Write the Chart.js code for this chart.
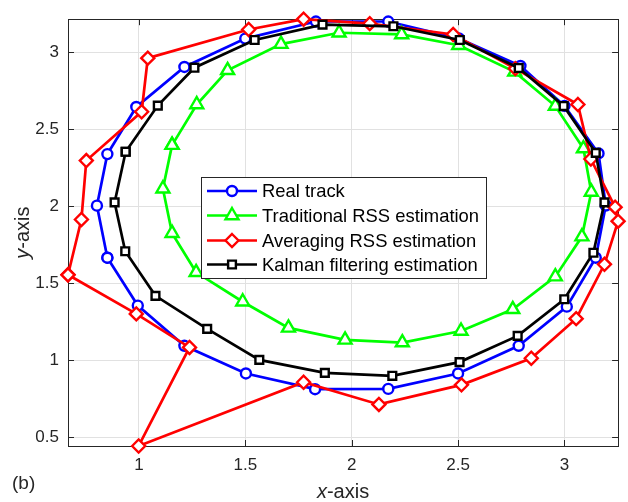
<!DOCTYPE html>
<html>
<head>
<meta charset="utf-8">
<title>Tracking estimation</title>
<script src="https://cdn.jsdelivr.net/npm/chart.js@4.4.1/dist/chart.umd.min.js"></script>
<style>
  html, body { margin: 0; padding: 0; background: #fff; }
  #wrap { width: 628px; height: 502px; }
</style>
</head>
<body>
<div id="wrap"><canvas id="trackChart" width="628" height="502"></canvas></div>
<script>
// positions round the loop for each method (x, y)
var realX = [0.852, 0.803, 0.852, 0.988, 1.214, 1.500, 1.832, 2.172, 2.504, 2.793, 3.000, 3.160, 3.194, 3.147, 3.011, 2.785, 2.500, 2.172, 1.828, 1.503, 1.214, 0.995];
var realY = [1.666, 2.004, 2.339, 2.645, 2.905, 3.089, 3.200, 3.200, 3.090, 2.911, 2.652, 2.343, 2.005, 1.666, 1.348, 1.094, 0.914, 0.814, 0.812, 0.914, 1.094, 1.355];

var tradX = [1.156, 1.113, 1.156, 1.269, 1.488, 1.703, 1.969, 2.238, 2.514, 2.757, 2.957, 3.082, 3.126, 3.089, 2.957, 2.766, 2.503, 2.235, 1.941, 1.668, 1.417, 1.272];
var tradY = [2.397, 2.114, 1.825, 1.571, 1.380, 1.210, 1.132, 1.115, 1.190, 1.331, 1.543, 1.803, 2.093, 2.375, 2.651, 2.873, 3.046, 3.116, 3.127, 3.053, 2.883, 2.661];

var avgX = [0.667, 0.730, 0.753, 1.013, 1.042, 1.516, 1.774, 2.085, 2.477, 2.769, 3.063, 3.124, 3.238, 3.252, 3.188, 3.055, 2.844, 2.516, 2.128, 1.774, 0.999, 1.238, 0.988];
var avgY = [1.555, 1.914, 2.297, 2.614, 2.962, 3.148, 3.215, 3.186, 3.116, 2.894, 2.661, 2.307, 1.994, 1.903, 1.623, 1.270, 1.013, 0.840, 0.713, 0.857, 0.443, 1.083, 1.301];

var kalX = [0.938, 0.886, 0.936, 1.078, 1.321, 1.566, 1.874, 2.191, 2.507, 2.780, 2.999, 3.136, 3.188, 3.147, 2.996, 2.785, 2.508, 2.196, 1.863, 1.544, 1.261, 1.089];
var kalY = [2.354, 2.025, 1.708, 1.418, 1.204, 1.002, 0.918, 0.899, 0.988, 1.158, 1.396, 1.698, 2.025, 2.347, 2.651, 2.898, 3.080, 3.169, 3.180, 3.080, 2.900, 2.654];

var seriesNames = ['Real track', 'Traditional RSS estimation', 'Averaging RSS estimation', 'Kalman filtering estimation'];

var xTicks = [1, 1.5, 2, 2.5, 3];
var yTicks = [0.5, 1, 1.5, 2, 2.5, 3];

var FONT = "'Liberation Sans', Arial, Helvetica, sans-serif";
var INK = '#262626';

// join x/y lists into points and close the loop
function loop(xs, ys) {
  var pts = [];
  for (var i = 0; i < xs.length; i++) pts.push({ x: xs[i], y: ys[i] });
  pts.push({ x: xs[0], y: ys[0] });
  return pts;
}

// axis tight round all the data
var allX = realX.concat(tradX, avgX, kalX);
var allY = realY.concat(tradY, avgY, kalY);
var xMin = Math.min.apply(null, allX), xMax = Math.max.apply(null, allX);
var yMin = Math.min.apply(null, allY), yMax = Math.max.apply(null, allY);

var styles = [
  { color: '#0000ff', pointStyle: 'circle', radius: 5 },
  { color: '#00ff00', pointStyle: 'triangle', radius: 7.5 },
  { color: '#ff0000', pointStyle: 'rectRot', radius: 6.5 },
  { color: '#000000', pointStyle: 'rect', radius: 5.5 }
];

function makeSet(i, pts, order) {
  return {
    label: seriesNames[i],
    data: pts,
    showLine: true,
    borderColor: styles[i].color,
    borderWidth: 2.7,
    pointStyle: styles[i].pointStyle,
    pointRadius: styles[i].radius,
    pointBorderColor: styles[i].color,
    pointBackgroundColor: '#ffffff',
    pointBorderWidth: 2.4,
    tension: 0,
    clip: false,
    order: order
  };
}

var tickLen = 6;

function marker(ctx, kind, x, y, r) {
  ctx.beginPath();
  if (kind === 'circle') {
    ctx.arc(x, y, r, 0, Math.PI * 2);
  } else if (kind === 'triangle') {
    ctx.moveTo(x, y - r);
    ctx.lineTo(x + r * Math.sin(Math.PI * 2 / 3), y + r / 2);
    ctx.lineTo(x - r * Math.sin(Math.PI * 2 / 3), y + r / 2);
    ctx.closePath();
  } else if (kind === 'rectRot') {
    ctx.moveTo(x, y - r);
    ctx.lineTo(x + r, y);
    ctx.lineTo(x, y + r);
    ctx.lineTo(x - r, y);
    ctx.closePath();
  } else {
    var s = r * Math.SQRT1_2;
    ctx.rect(x - s, y - s, 2 * s, 2 * s);
  }
  ctx.fill();
  ctx.stroke();
}

// write "x-axis" style labels: italic letter then upright rest
function mixedLabel(ctx, first, rest, size, cx, baseY) {
  ctx.font = 'italic ' + size + 'px ' + FONT;
  var w1 = ctx.measureText(first).width;
  ctx.font = size + 'px ' + FONT;
  var w2 = ctx.measureText(rest).width;
  var left = cx - (w1 + w2) / 2;
  ctx.textAlign = 'left';
  ctx.textBaseline = 'alphabetic';
  ctx.font = 'italic ' + size + 'px ' + FONT;
  ctx.fillText(first, left, baseY);
  ctx.font = size + 'px ' + FONT;
  ctx.fillText(rest, left + w1, baseY);
}

var framePlugin = {
  id: 'frame',
  beforeDatasetsDraw: function (chart) {
    var ctx = chart.ctx, a = chart.chartArea;
    var xs = chart.scales.x, ys = chart.scales.y;
    ctx.save();
    ctx.strokeStyle = INK;
    ctx.lineWidth = 1;
    ctx.beginPath();
    xTicks.forEach(function (v) {
      var px = Math.round(xs.getPixelForValue(v)) + 0.5;
      ctx.moveTo(px, a.bottom); ctx.lineTo(px, a.bottom - tickLen);
      ctx.moveTo(px, a.top); ctx.lineTo(px, a.top + tickLen);
    });
    yTicks.forEach(function (v) {
      var py = Math.round(ys.getPixelForValue(v)) + 0.5;
      ctx.moveTo(a.left, py); ctx.lineTo(a.left + tickLen, py);
      ctx.moveTo(a.right, py); ctx.lineTo(a.right - tickLen, py);
    });
    ctx.stroke();
    ctx.strokeRect(Math.round(a.left) + 0.5, Math.round(a.top) + 0.5,
      Math.round(a.right - a.left), Math.round(a.bottom - a.top));
    ctx.restore();
  },
  afterDatasetsDraw: function (chart) {
    // legend box inside the axes
    var ctx = chart.ctx;
    var bx = 201, by = 177, bw = 285, bh = 101;
    var rows = [191, 215.5, 240.5, 264.5];
    ctx.save();
    ctx.fillStyle = '#ffffff';
    ctx.fillRect(bx, by, bw, bh);
    ctx.strokeStyle = INK;
    ctx.lineWidth = 1;
    ctx.strokeRect(bx + 0.5, by + 0.5, bw, bh);
    for (var i = 0; i < seriesNames.length; i++) {
      var y = rows[i];
      ctx.strokeStyle = styles[i].color;
      ctx.lineWidth = 2.7;
      ctx.beginPath();
      ctx.moveTo(207, y);
      ctx.lineTo(257, y);
      ctx.stroke();
      ctx.fillStyle = '#ffffff';
      ctx.lineWidth = 2.4;
      marker(ctx, styles[i].pointStyle, 232, y, styles[i].radius);
      ctx.fillStyle = '#000000';
      ctx.font = '18.4px ' + FONT;
      ctx.textAlign = 'left';
      ctx.textBaseline = 'middle';
      ctx.fillText(seriesNames[i], 262, y + 1);
    }
    ctx.restore();
  },
  afterDraw: function (chart) {
    var ctx = chart.ctx, a = chart.chartArea;
    ctx.save();
    ctx.fillStyle = INK;
    mixedLabel(ctx, 'x', '-axis', 20, (a.left + a.right) / 2, 498);
    ctx.translate(29, (a.top + a.bottom) / 2);
    ctx.rotate(-Math.PI / 2);
    mixedLabel(ctx, 'y', '-axis', 20, 0, 0);
    ctx.restore();
    ctx.save();
    ctx.fillStyle = INK;
    ctx.font = '19px ' + FONT;
    ctx.textAlign = 'left';
    ctx.textBaseline = 'alphabetic';
    ctx.fillText('(b)', 12, 489);
    ctx.restore();
  }
};

var chart = new Chart(document.getElementById('trackChart'), {
  type: 'scatter',
  data: {
    datasets: [
      makeSet(0, loop(realX, realY), 4),
      makeSet(1, loop(tradX, tradY), 3),
      makeSet(2, loop(avgX, avgY), 2),
      makeSet(3, loop(kalX, kalY), 1)
    ]
  },
  options: {
    responsive: false,
    animation: false,
    events: [],
    layout: { padding: { top: 9, right: 8, left: 0, bottom: 0 } },
    plugins: {
      legend: { display: false },
      tooltip: { enabled: false }
    },
    scales: {
      x: {
        type: 'linear',
        min: xMin,
        max: xMax,
        afterBuildTicks: function (scale) {
          scale.ticks = xTicks.map(function (v) { return { value: v }; });
        },
        afterFit: function (scale) { scale.height = 56; },
        grid: { color: '#e1e1e1', lineWidth: 1, drawTicks: false },
        border: { display: false },
        ticks: {
          padding: 9,
          color: INK,
          font: { family: FONT, size: 17 },
          maxRotation: 0,
          callback: function (v) { return String(v); }
        }
      },
      y: {
        type: 'linear',
        min: yMin,
        max: yMax,
        afterBuildTicks: function (scale) {
          scale.ticks = yTicks.map(function (v) { return { value: v }; });
        },
        afterFit: function (scale) { scale.width = 68; },
        grid: { color: '#e1e1e1', lineWidth: 1, drawTicks: false },
        border: { display: false },
        ticks: {
          padding: 9,
          color: INK,
          font: { family: FONT, size: 17 },
          callback: function (v) { return String(v); }
        }
      }
    }
  },
  plugins: [framePlugin]
});
</script>
</body>
</html>
